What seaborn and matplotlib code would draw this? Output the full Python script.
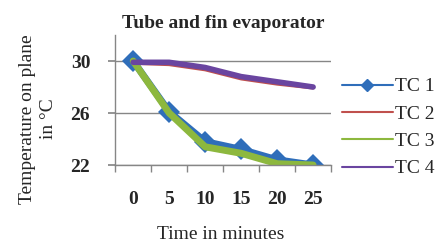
import numpy as np
import pandas as pd
import seaborn as sns
import matplotlib.pyplot as plt
from matplotlib.lines import Line2D

sns.set_theme(style="white")
plt.rcParams['font.family'] = ['Liberation Serif', 'DejaVu Serif']

minutes = ["0", "5", "10", "15", "20", "25"]
tc1 = [30.0, 26.1, 23.8, 23.2, 22.4, 22.0]
tc2 = [29.8, 29.7, 29.3, 28.6, 28.2, 27.9]
tc3 = [30.0, 26.0, 23.4, 22.9, 22.1, 22.0]
tc4 = [29.9, 29.9, 29.5, 28.8, 28.4, 28.0]
names = ["TC 1", "TC 2", "TC 3", "TC 4"]
colors = ["#2F6EBA", "#C0504D", "#8DB83E", "#6A45A0"]

pos = np.arange(len(minutes))
df = pd.DataFrame({"pos": pos, "TC 1": tc1, "TC 2": tc2, "TC 3": tc3, "TC 4": tc4})

fig = plt.figure(figsize=(4.38, 2.5), dpi=100)
ax = fig.add_axes([0.263, 0.34, 0.493, 0.52])

widths = [5, 1.8, 5, 4]
for name, c, lw in zip(names, colors, widths):
    kw = dict(marker="D", markersize=11, markeredgewidth=0) if name == "TC 1" else {}
    sns.lineplot(data=df, x="pos", y=name, color=c, linewidth=lw, ax=ax,
                 legend=False, **kw)

ax.set_xlim(-0.5, 5.5)
ax.set_ylim(22, 32)
ax.set_yticks([22, 26, 30])
ax.set_xticks(pos)
ax.set_xticklabels(minutes, fontweight="bold", fontsize=14)
ax.set_xticks(np.arange(-0.5, 6, 1), minor=True)
ax.tick_params(axis="x", which="major", length=0, pad=19)
ax.tick_params(axis="x", which="minor", length=5, color="#868686", direction="out", bottom=True)
ax.tick_params(axis="y", length=5, color="#868686", left=True, pad=13)
for lab in ax.get_yticklabels():
    lab.set_fontweight("bold")
    lab.set_fontsize(14)
ax.grid(axis="y", color="#868686", linewidth=1)
for s in ["top", "right"]:
    ax.spines[s].set_visible(False)
for s in ["left", "bottom"]:
    ax.spines[s].set_color("#868686")
    ax.spines[s].set_linewidth(1)

ax.set_title("Tube and fin evaporator", fontweight="bold", fontsize=14, pad=5)
ax.set_xlabel("Time in minutes", fontsize=14)
ax.xaxis.set_label_coords(221 / 438, 1 - 226 / 250, transform=fig.transFigure)
ax.set_ylabel("Temperature on plane\nin °C", fontsize=14, linespacing=1.3)
ax.yaxis.set_label_coords(57 / 438, 1 - 119 / 250, transform=fig.transFigure)

handles = [Line2D([], [], color=colors[0], lw=1.5, marker="D", markersize=6)]
handles += [Line2D([], [], color=c, lw=1.5) for c in colors[1:]]
fig.legend(handles, names, loc="upper left", bbox_to_anchor=(0.763, 0.72),
           frameon=False, fontsize=14, handlelength=2.6, labelspacing=0.5,
           handletextpad=0.15, borderaxespad=0)

fig.savefig("out.png", dpi=100)
